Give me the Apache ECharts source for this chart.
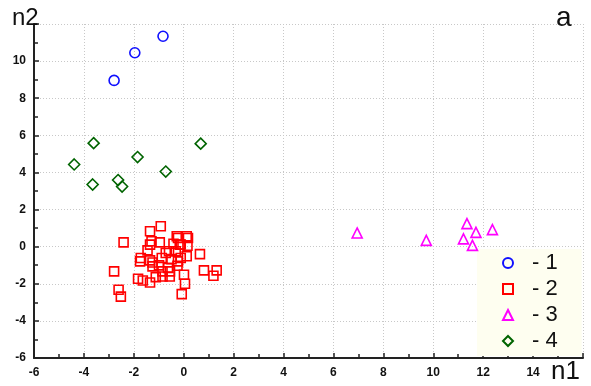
<!DOCTYPE html>
<html><head><meta charset="utf-8">
<script src="https://cdn.jsdelivr.net/npm/echarts@6/dist/echarts.min.js"></script>
<style>html,body{margin:0;padding:0;background:#fff}#c{width:591px;height:386px}</style>
</head><body><div id="c"></div>
<script>
const group1 = [[-0.83,11.34],[-1.96,10.45],[-2.79,8.96]];
const group2 = [[-0.92,1.10],[-1.35,0.83],[-2.41,0.23],[-1.29,0.29],[-0.96,0.23],[-1.35,0.11],[-0.28,0.56],[0.12,0.56],[0.17,0.47],[-0.23,0.47],[-0.41,0.16],[-0.12,0.12],[0.15,0.05],[-1.45,-0.2],[-0.59,-0.25],[-0.32,-0.25],[0.65,-0.4],[-1.72,-0.61],[-1.75,-0.79],[-1.35,-0.74],[-1.25,-0.85],[-0.88,-0.61],[-0.49,-0.67],[-0.12,-0.61],[0.12,-0.52],[-1.25,-1.06],[-0.99,-1.01],[-0.63,-1.15],[-0.25,-1.03],[-0.85,-1.33],[-0.55,-1.33],[-2.79,-1.33],[0.81,-1.28],[1.32,-1.28],[1.19,-1.57],[0.01,-1.51],[-1.83,-1.73],[-1.64,-1.82],[-1.35,-1.93],[-1.12,-1.64],[-0.85,-1.61],[-0.56,-1.61],[0.05,-2.0],[-2.61,-2.32],[-2.52,-2.69],[-0.08,-2.56],[-0.16,0.11],[-0.72,-0.34],[-0.23,-0.79]];
const group3 = [[6.95,0.74],[9.72,0.34],[11.35,1.24],[11.21,0.42],[11.71,0.77],[11.57,0.07],[12.37,0.92]];
const group4 = [[-3.61,5.58],[-4.39,4.43],[-1.85,4.83],[0.68,5.55],[-0.72,4.05],[-3.65,3.35],[-2.63,3.59],[-2.47,3.24]];
const seriesNames = ['1','2','3','4'];
const xTicks = [-6,-4,-2,0,2,4,6,8,10,12,14];
const yTicks = [-6,-4,-2,0,2,4,6,8,10];

const chart = echarts.init(document.getElementById('c'), null, {renderer:'canvas'});
function mk(name, data, symbol, size, color){
  return {name, type:'scatter', data, symbol, symbolSize:size,
    itemStyle:{color:'rgba(0,0,0,0)', borderColor:color, borderWidth:1.6, opacity:1},
    emphasis:{disabled:true}, z:5};
}
const axisCommon = {
  axisLine:{show:true, onZero:false, lineStyle:{color:'#222', width:2}},
  axisTick:{show:true, inside:true, length:5, lineStyle:{color:'#222', width:1.5}},
  minorTick:{show:true, splitNumber:2, length:4, lineStyle:{color:'#222', width:1.5}},
  splitLine:{show:true, lineStyle:{color:'#c8c8c8', type:[1,2], width:1}},
  axisLabel:{color:'#111', fontFamily:'Liberation Sans', fontWeight:'bold', fontSize:12}
};
chart.setOption({
  animation:false,
  backgroundColor:'#fff',
  grid:{left:34, right:8, top:24, bottom:28, show:false},
  xAxis:Object.assign({type:'value', min:-6, max:16, interval:2}, JSON.parse(JSON.stringify(axisCommon)), {
    axisLabel:Object.assign({}, axisCommon.axisLabel, {margin:9, formatter:v=>xTicks.includes(v)?String(v):''})
  }),
  yAxis:Object.assign({type:'value', min:-6, max:12, interval:2}, JSON.parse(JSON.stringify(axisCommon)), {
    axisLabel:Object.assign({}, axisCommon.axisLabel, {margin:8, formatter:v=>yTicks.includes(v)?String(v):''})
  }),
  legend:{
    orient:'vertical', left:477, top:249, width:106,
    backgroundColor:'#fefef0', padding:[3,24,4,25],
    itemWidth:10, itemHeight:10, itemGap:4,
    formatter:n=>'- '+n,
    textStyle:{fontFamily:'Liberation Sans', fontSize:22, lineHeight:21, color:'#111', padding:[0,0,0,14]},
    data:seriesNames.map(n=>({name:n}))
  },
  graphic:[
    {type:'text', left:12, top:6, z:100, style:{text:'n2', font:'24px "Liberation Sans"', fill:'#111'}},
    {type:'text', left:551, top:359, z:100, style:{text:'n1', font:'26px "Liberation Sans"', fill:'#111'}},
    {type:'text', left:556, top:4, z:100, style:{text:'a', font:'28px "Liberation Sans"', fill:'#111'}}
  ],
  series:[
    mk(seriesNames[0], group1, 'circle', 10, '#1010ff'),
    mk(seriesNames[1], group2, 'rect', 9, '#ff0000'),
    mk(seriesNames[2], group3, 'triangle', 10, '#ff00ff'),
    mk(seriesNames[3], group4, 'diamond', 11, '#006400')
  ]
});
</script></body></html>
